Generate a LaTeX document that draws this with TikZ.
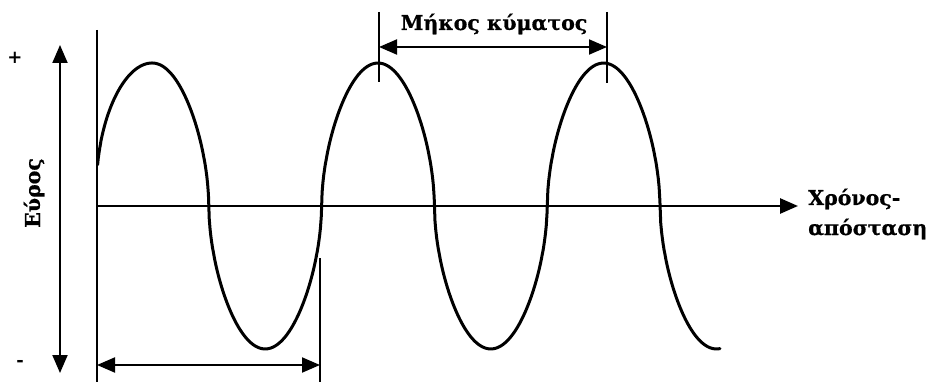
\documentclass[tikz,border=0pt]{standalone}
\usepackage{fontspec}
\setmainfont{DejaVu Serif}
\newfontfamily\lblfont[FakeBold=0.7]{DejaVu Serif}
\usetikzlibrary{arrows.meta}
\begin{document}
\begin{tikzpicture}[x=1pt,y=-1pt,
  tipstyle/.style={-{Triangle[length=18pt,width=15pt]}},
  dtipstyle/.style={{Triangle[length=18pt,width=15pt]}-{Triangle[length=18pt,width=15pt]}},
  lbl/.style={font=\lblfont\fontsize{20.5}{30}\selectfont\bfseries, inner sep=0pt},
  sgn/.style={font=\fontsize{18}{20}\selectfont\bfseries, inner sep=0pt},
  wave/.style={line width=3pt, line cap=round, line join=round},
  thin/.style={line width=2pt},
  thick/.style={line width=2.8pt}]
\useasboundingbox (0,0) rectangle (926,382);
% coordinates
\coordinate (ltop) at (97,30);
\coordinate (lbot) at (97,382);
\coordinate (axL) at (97,206);
\coordinate (axR) at (798,206);
\coordinate (ampT) at (60,45);
\coordinate (ampB) at (60,373);
\coordinate (rvT) at (320,258);
\coordinate (rvB) at (320,382);
\coordinate (bL) at (97,365);
\coordinate (bR) at (320,365);
\coordinate (t1T) at (379,12);
\coordinate (t1B) at (379,82);
\coordinate (t2T) at (607,12);
\coordinate (t2B) at (607,83);
\coordinate (tL) at (379,47);
\coordinate (tR) at (607,47);
% lines
\draw[thick] (ltop) -- (lbot);
\draw[thick, tipstyle] (axL) -- (axR);
\draw[thin, dtipstyle] (ampT) -- (ampB);
\draw[thin] (rvT) -- (rvB);
\draw[thin, dtipstyle] (bL) -- (bR);
\draw[thin] (t1T) -- (t1B);
\draw[thin] (t2T) -- (t2B);
\draw[thin, dtipstyle] (tL) -- (tR);
% wave
\draw[wave] plot[domain=97.6:152.4, samples=80] (\x,{206-143*(sin((\x-96)/112.8*180))^0.4})
  -- plot[domain=152.4:720, samples=700] (\x,{206-143*sin((\x-96)/112.8*180)*(abs(sin((\x-96)/112.8*180))+0.001)^(-0.46)});
% labels
\node[lbl, anchor=base] (mk) at (494,30) {Μήκος κύματος};
\node[lbl, anchor=base west] (xr) at (808,205) {Χρόνος-};
\node[lbl, anchor=base west] (ap) at (808,235) {απόσταση};
\node[lbl, anchor=base, rotate=90] (eu) at (40,193) {Εύρος};
\node[sgn] (plus) at (15,58) {+};
\node[sgn] (minus) at (20,363) {-};
\end{tikzpicture}
\end{document}
